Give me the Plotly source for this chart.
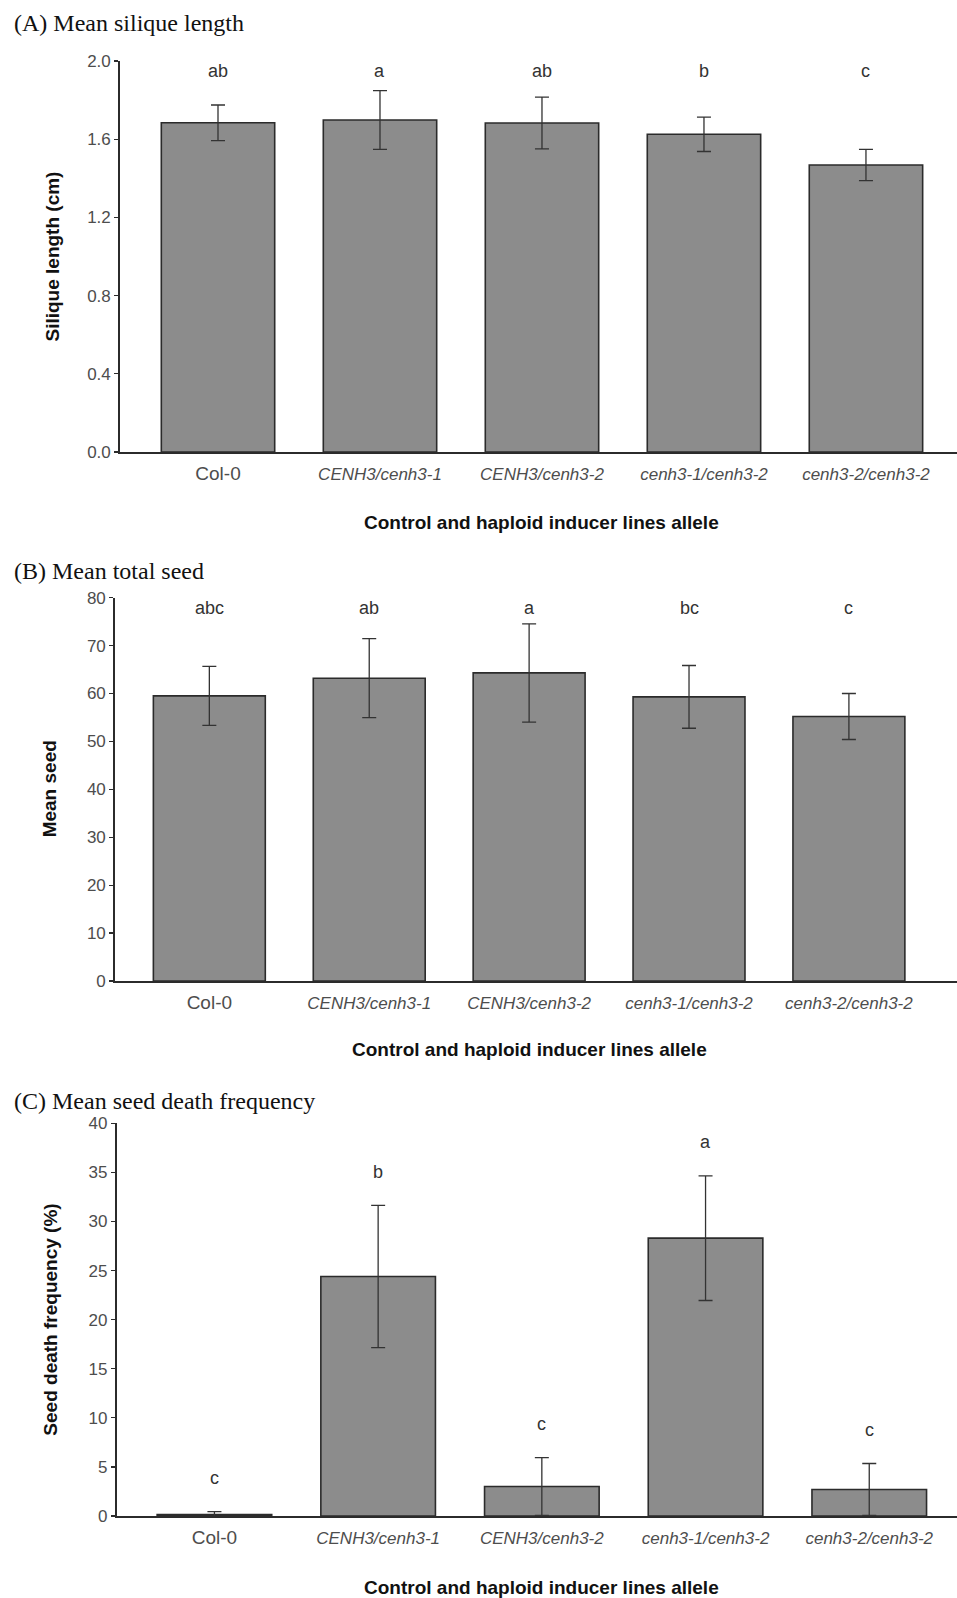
import plotly.graph_objects as go

categories = ["Col-0", "CENH3/cenh3-1", "CENH3/cenh3-2", "cenh3-1/cenh3-2", "cenh3-2/cenh3-2"]
tick_labels = ["<span style='font-size:19px'>Col-0</span>", "<i>CENH3/cenh3-1</i>", "<i>CENH3/cenh3-2</i>",
               "<i>cenh3-1/cenh3-2</i>", "<i>cenh3-2/cenh3-2</i>"]

silique_mean = [1.684, 1.698, 1.683, 1.625, 1.468]
silique_err = [0.091, 0.150, 0.132, 0.088, 0.080]
silique_letters = ["ab", "a", "ab", "b", "c"]

seed_mean = [59.5, 63.2, 64.3, 59.3, 55.2]
seed_err = [6.15, 8.25, 10.25, 6.55, 4.8]
seed_letters = ["abc", "ab", "a", "bc", "c"]

death_mean = [0.15, 24.4, 3.0, 28.3, 2.7]
death_err = [0.3, 7.25, 2.95, 6.35, 2.65]
death_letters = ["c", "b", "c", "a", "c"]

H = 1598.0
W = 957.0

BAR = "#8c8c8c"
DARK = "#2b2b2b"
TICKC = "#4d4d4d"
SANS = "Liberation Sans, Arial, sans-serif"
SERIF = "Liberation Serif, Times New Roman, serif"

panels = [
    dict(mean=silique_mean, err=silique_err, letters=silique_letters, letter_y=[1.95] * 5,
         ytitle="Silique length (cm)", title="(A) Mean silique length",
         ypix=(61, 452), xleft=120, xr=(-0.605, 4.562), yr=(0, 2.0), dtick=0.4, fmt=".1f",
         title_y=23, xtitle_y=522, ytitle_x=52),
    dict(mean=seed_mean, err=seed_err, letters=seed_letters, letter_y=[77.8] * 5,
         ytitle="Mean seed", title="(B) Mean total seed",
         ypix=(597.7, 981), xleft=115, xr=(-0.59, 4.676), yr=(0, 80), dtick=10, fmt="d",
         title_y=571, xtitle_y=1049, ytitle_x=49),
    dict(mean=death_mean, err=death_err, letters=death_letters,
         letter_y=[m + e + 3.4 for m, e in zip(death_mean, death_err)],
         ytitle="Seed death frequency (%)", title="(C) Mean seed death frequency",
         ypix=(1123.3, 1516), xleft=116.7, xr=(-0.597, 4.536), yr=(0, 40), dtick=5, fmt="d",
         title_y=1101, xtitle_y=1587, ytitle_x=51),
]

fig = go.Figure()
annotations = []
layout_axes = {}

for i, p in enumerate(panels):
    n = "" if i == 0 else str(i + 1)
    xa, ya = "x" + n, "y" + n
    fig.add_trace(go.Bar(
        x=categories, y=p["mean"], xaxis=xa, yaxis=ya, width=0.70,
        marker=dict(color=BAR, line=dict(color=DARK, width=1.6)),
        error_y=dict(type="data", array=p["err"], visible=True, color="#333333", thickness=1.3, width=7),
        showlegend=False, hoverinfo="skip",
    ))
    ydom = [1 - p["ypix"][1] / H, 1 - p["ypix"][0] / H]
    xdom = [p["xleft"] / W, 1.0]
    layout_axes["xaxis" + n] = dict(
        domain=xdom, anchor=ya, range=list(p["xr"]), type="category", automargin=False,
        tickvals=categories, ticktext=tick_labels, ticks="", showgrid=False,
        showline=True, linecolor=DARK, linewidth=1.8, zeroline=False,
        tickfont=dict(family=SANS, size=17, color=TICKC), ticklabelstandoff=6,
    )
    layout_axes["yaxis" + n] = dict(
        domain=ydom, anchor=xa, range=list(p["yr"]), dtick=p["dtick"], tick0=0, tickformat=p["fmt"],
        automargin=False,
        ticks="outside", ticklen=4, tickwidth=1.2, tickcolor=DARK, showgrid=False,
        showline=True, linecolor=DARK, linewidth=1.8, zeroline=False,
        tickfont=dict(family=SANS, size=17, color=TICKC),
    )
    for c, lab, ly in zip(categories, p["letters"], p["letter_y"]):
        annotations.append(dict(x=c, y=ly, xref=xa, yref=ya, text=lab, showarrow=False,
                                font=dict(family=SANS, size=18, color="#333333"),
                                xanchor="center", yanchor="middle"))
    annotations.append(dict(x=12 / W, y=1 - p["title_y"] / H, xref="paper", yref="paper",
                            text=p["title"], showarrow=False, xanchor="left", yanchor="middle",
                            font=dict(family=SERIF, size=24, color="#111111")))
    annotations.append(dict(x=categories[2], y=1 - p["xtitle_y"] / H, xref=xa, yref="paper",
                            text="<b>Control and haploid inducer lines allele</b>", showarrow=False,
                            xanchor="center", yanchor="middle",
                            font=dict(family=SANS, size=19, color="#111111")))
    annotations.append(dict(x=p["ytitle_x"] / W, y=(ydom[0] + ydom[1]) / 2, xref="paper", yref="paper",
                            text="<b>" + p["ytitle"] + "</b>", showarrow=False, textangle=-90,
                            xanchor="center", yanchor="middle",
                            font=dict(family=SANS, size=19, color="#111111")))

fig.update_layout(
    template="none",
    width=957, height=1598, margin=dict(l=0, r=0, t=0, b=0, autoexpand=False),
    paper_bgcolor="white", plot_bgcolor="white", bargap=0.3,
    annotations=annotations, **layout_axes,
)

fig.write_html("out.html", config={"displayModeBar": False, "staticPlot": True},
               post_script="document.body.style.margin='0px';document.body.style.overflow='hidden';")
